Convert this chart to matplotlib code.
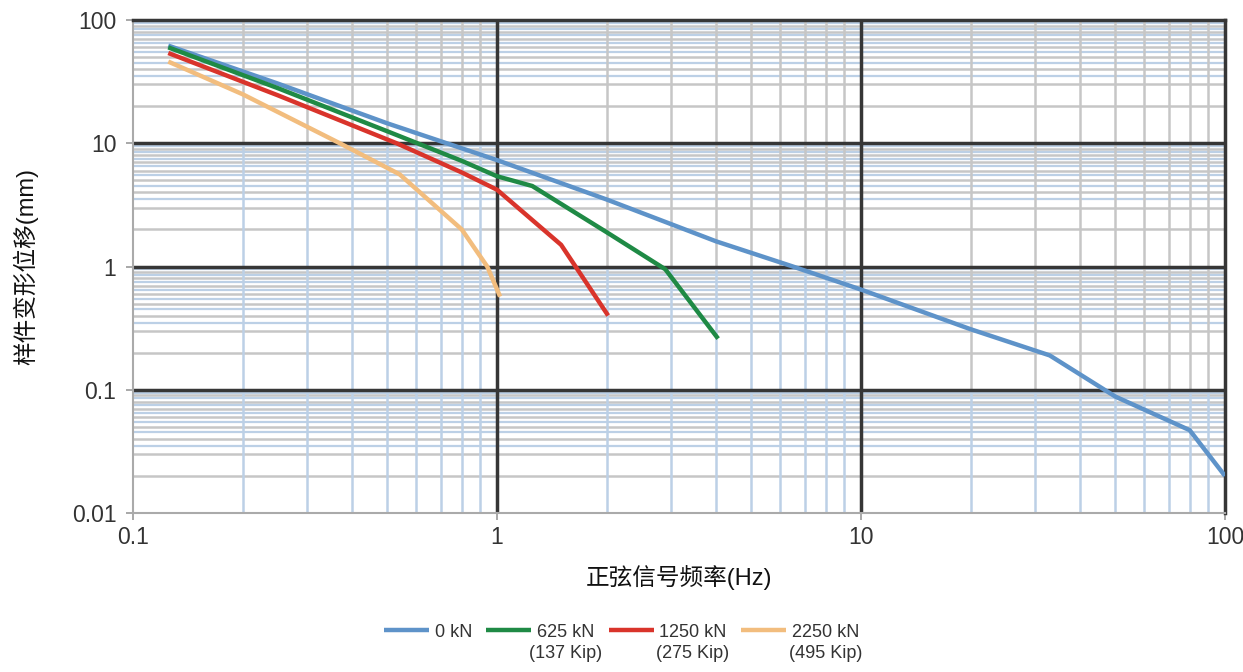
import numpy as np
import matplotlib
matplotlib.use("Agg")
import matplotlib.pyplot as plt

plt.rcParams['font.family'] = ['Liberation Sans', 'Noto Sans CJK SC']
plt.rcParams['font.size'] = 13

# frequency (Hz) / displacement (mm)
freq_0kN = [0.125, 0.25, 0.5, 1.0, 2.0, 4.0, 6.5, 10, 20, 33, 50, 80, 100]
disp_0kN = [62, 30.5, 14.5, 7.3, 3.5, 1.6, 1.0, 0.65, 0.31, 0.19, 0.088, 0.047, 0.02]

freq_625kN = [0.125, 0.25, 0.5, 0.8, 1.0, 1.25, 2.0, 2.9, 4.05]
disp_625kN = [60, 28, 12.5, 7.2, 5.4, 4.5, 1.9, 0.95, 0.26]

freq_1250kN = [0.125, 0.25, 0.53, 0.8, 1.0, 1.5, 2.02]
disp_1250kN = [54, 24.5, 10, 5.8, 4.2, 1.5, 0.4]

freq_2250kN = [0.125, 0.2, 0.37, 0.54, 0.8, 0.94, 1.02]
disp_2250kN = [46, 25, 10, 5.6, 2.0, 1.0, 0.57]

labels = ['0 kN', '625 kN', '1250 kN', '2250 kN']
sublabels = ['', '(137 Kip)', '(275 Kip)', '(495 Kip)']
colors = ['#5e93c9', '#1f8a45', '#d9342b', '#f2bd7e']

GRAY = '#c6c6c6'
BLUE = '#bcd0e6'
MAJOR = '#363636'


def main():
    fig = plt.figure(figsize=(12.43, 6.72), dpi=100)
    ax = fig.add_axes([0.107, 0.2366, 0.8785, 0.7336])
    ax.set_xscale('log')
    ax.set_yscale('log')
    ax.set_xlim(0.1, 100)
    ax.set_ylim(0.01, 100)

    # minor grid: integer steps grey, half steps bluish
    for dec in [0.01, 0.1, 1, 10]:
        for m in range(2, 10):
            ax.axhline(dec * m, color=GRAY, lw=1.8, zorder=1)
        for m in np.arange(3.5, 10, 1.0):
            ax.axhline(dec * m, color=BLUE, lw=1.6, zorder=1)

    # vertical minor lines: blue towards lower-left, grey towards upper-right
    for i, dec in enumerate([0.1, 1, 10]):
        for m in range(2, 10):
            for j in range(4):
                c = GRAY if (i + j) >= 3 else BLUE
                ax.axvline(dec * m, ymin=j / 4, ymax=(j + 1) / 4,
                           color=c, lw=1.8, zorder=1)

    for v in [1, 10]:
        ax.axvline(v, color=MAJOR, lw=2.5, zorder=2)
    for v in [0.1, 1, 10]:
        ax.axhline(v, color=MAJOR, lw=2.5, zorder=2)

    series = [(freq_0kN, disp_0kN), (freq_625kN, disp_625kN),
              (freq_1250kN, disp_1250kN), (freq_2250kN, disp_2250kN)]
    handles = []
    for (x, y), lab, c in zip(series, labels, colors):
        h, = ax.plot(x, y, color=c, lw=3.2, label=lab, zorder=5,
                     solid_capstyle='butt', solid_joinstyle='round')
        handles.append(h)

    for side in ['top', 'right']:
        ax.spines[side].set_color(MAJOR)
        ax.spines[side].set_linewidth(2.5)
    for side in ['left', 'bottom']:
        ax.spines[side].set_color('#aaaaaa')
        ax.spines[side].set_linewidth(1.5)

    ax.set_xticks([0.1, 1, 10, 100])
    ax.set_xticklabels(['0.1', '1', '10', '100'])
    ax.set_yticks([0.01, 0.1, 1, 10, 100])
    ax.set_yticklabels(['0.01', '0.1', '1', '10', '100'])
    ax.minorticks_off()
    ax.tick_params(axis='both', which='major', length=5, width=1.2,
                   color='#999999', labelcolor='#333333', labelsize=16.5)
    ax.tick_params(axis='x', pad=4)
    ax.tick_params(axis='y', pad=7)

    ax.set_xlabel('正弦信号频率(Hz)', fontsize=17, color='#111111', labelpad=12)
    ax.set_ylabel('样件变形位移(mm)', fontsize=17, color='#111111', labelpad=24)

    leg = fig.legend(handles=handles, loc='center', bbox_to_anchor=(0.5, 0.0595),
                     ncol=4, frameon=False, handlelength=2.5, handletextpad=0.3,
                     columnspacing=0.8, fontsize=13)
    for t in leg.get_texts():
        t.set_color('#333333')

    fig.canvas.draw()
    for t, sub in zip(leg.get_texts(), sublabels):
        if sub:
            fig.add_artist(plt.Annotation(sub, xy=(0.5, 0), xycoords=t,
                                          xytext=(0, -3), textcoords='offset points',
                                          ha='center', va='top', fontsize=13,
                                          color='#333333'))

    fig.savefig('out.png', dpi=100)


if __name__ == "__main__":
    main()
